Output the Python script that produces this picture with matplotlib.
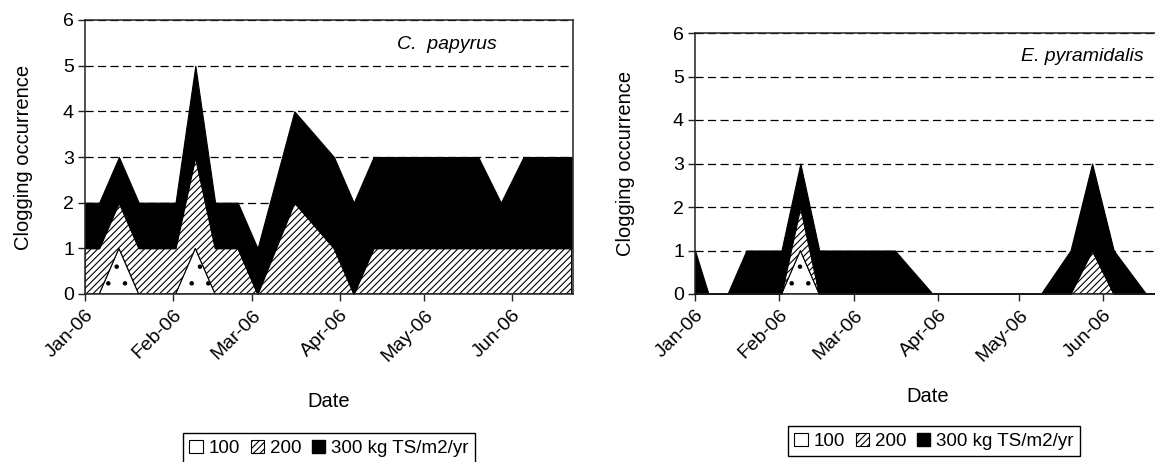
import matplotlib.pyplot as plt
import matplotlib.dates as mdates
from matplotlib.patches import Patch
import numpy as np
from datetime import datetime

plt.rcParams['font.family'] = ['Liberation Sans', 'DejaVu Sans']
plt.rcParams['hatch.linewidth'] = 0.8

# sampling dates (2006)
dates = ['2006-01-01', '2006-01-06', '2006-01-13', '2006-01-20', '2006-02-02',
         '2006-02-09', '2006-02-16', '2006-02-24', '2006-03-03', '2006-03-16',
         '2006-03-30', '2006-04-06', '2006-04-13', '2006-05-09', '2006-05-20',
         '2006-05-28', '2006-06-05', '2006-06-17', '2006-06-22']

# C. papyrus, clogging occurrences per loading rate (stacked)
papyrus_100 = [0, 0, 1, 0, 0, 1, 0, 0, 0, 0, 0, 0, 0, 0, 0, 0, 0, 0, 0]
papyrus_200 = [1, 1, 1, 1, 1, 2, 1, 1, 0, 2, 1, 0, 1, 1, 1, 1, 1, 1, 1]
papyrus_300 = [1, 1, 1, 1, 1, 2, 1, 1, 1, 2, 2, 2, 2, 2, 2, 1, 2, 2, 2]

# E. pyramidalis
pyram_100 = [0, 0, 0, 0, 0, 1, 0, 0, 0, 0, 0, 0, 0, 0, 0, 0, 0, 0, 0]
pyram_200 = [0, 0, 0, 0, 0, 1, 0, 0, 0, 0, 0, 0, 0, 0, 0, 1, 0, 0, 0]
pyram_300 = [1, 0, 0, 1, 1, 1, 1, 1, 1, 1, 0, 0, 0, 0, 1, 2, 1, 0, 0]

legend_labels = ['100', '200', '300 kg TS/m2/yr']

x = [datetime.strptime(d, '%Y-%m-%d') for d in dates]

W, H = 1155, 462


def draw(ax, s100, s200, s300, name, name_pos, ylab_x, date_y):
    c1 = np.array(s100)
    c2 = c1 + np.array(s200)
    c3 = c2 + np.array(s300)
    ax.fill_between(x, 0, c1, facecolor='white', edgecolor='black', hatch='.', linewidth=0.8, zorder=2)
    ax.fill_between(x, c1, c2, facecolor='white', edgecolor='black', hatch='/////', linewidth=0.8, zorder=2)
    ax.fill_between(x, c2, c3, facecolor='black', edgecolor='black', linewidth=0.8, zorder=2)

    ax.set_ylim(0, 6)
    ax.set_yticks(range(7))
    ax.set_xlim(datetime(2006, 1, 1), datetime(2006, 6, 22, 12))
    ax.xaxis.set_major_locator(mdates.MonthLocator())
    ax.xaxis.set_major_formatter(mdates.DateFormatter('%b-%y'))
    for lab in ax.get_xticklabels():
        lab.set_rotation(45)
        lab.set_ha('right')
        lab.set_rotation_mode('anchor')
    ax.tick_params(labelsize=14, length=5, width=1, color='#222222')
    ax.tick_params(axis='x', pad=4)
    ax.tick_params(axis='y', pad=3)
    ax.grid(axis='y', color='black', linestyle=(0, (6.5, 3.5)), linewidth=0.9, zorder=0)
    ax.set_axisbelow(True)
    for sp in ax.spines.values():
        sp.set_linewidth(1.1)
        sp.set_color('#222222')
        sp.set_zorder(3)

    ax.set_ylabel('Clogging occurrence', fontsize=14.5)
    ax.yaxis.set_label_coords(ylab_x, 0.5)
    ax.set_xlabel('Date', fontsize=14.5)
    ax.xaxis.set_label_coords(0.5, date_y)
    ax.text(name_pos[0], name_pos[1], name, transform=ax.transAxes, fontsize=14,
            style='italic', ha='left', va='center')


fig = plt.figure(figsize=(W / 100, H / 100), dpi=100)
ax1 = fig.add_axes([85 / W, 1 - 294 / H, 488 / W, 274 / H])
ax2 = fig.add_axes([695 / W, 1 - 294 / H, 466 / W, 261 / H])

draw(ax1, papyrus_100, papyrus_200, papyrus_300, 'C.  papyrus', (0.64, 0.91),
     (33 - 85) / 488, (294 - 392) / 274)
draw(ax2, pyram_100, pyram_200, pyram_300, 'E. pyramidalis', (0.70, 0.91),
     (635 - 695) / 466, (294 - 387) / 261)

handles = [Patch(facecolor='white', edgecolor='black', linewidth=0.8),
           Patch(facecolor='white', edgecolor='black', hatch='/////', linewidth=0.8),
           Patch(facecolor='black', edgecolor='black')]

for cx, top in [(329 / W, 1 - 433 / H), (934 / W, 1 - 426 / H)]:
    leg = fig.legend(handles, legend_labels, loc='upper center', bbox_to_anchor=(cx, top),
                     ncol=3, fontsize=13.5, frameon=True, fancybox=False, framealpha=1,
                     edgecolor='black', handlelength=0.7, handleheight=0.7,
                     handletextpad=0.3, columnspacing=0.6, borderpad=0.35,
                     borderaxespad=0)
    leg.get_frame().set_linewidth(1.0)

fig.savefig('out.png', dpi=100)
